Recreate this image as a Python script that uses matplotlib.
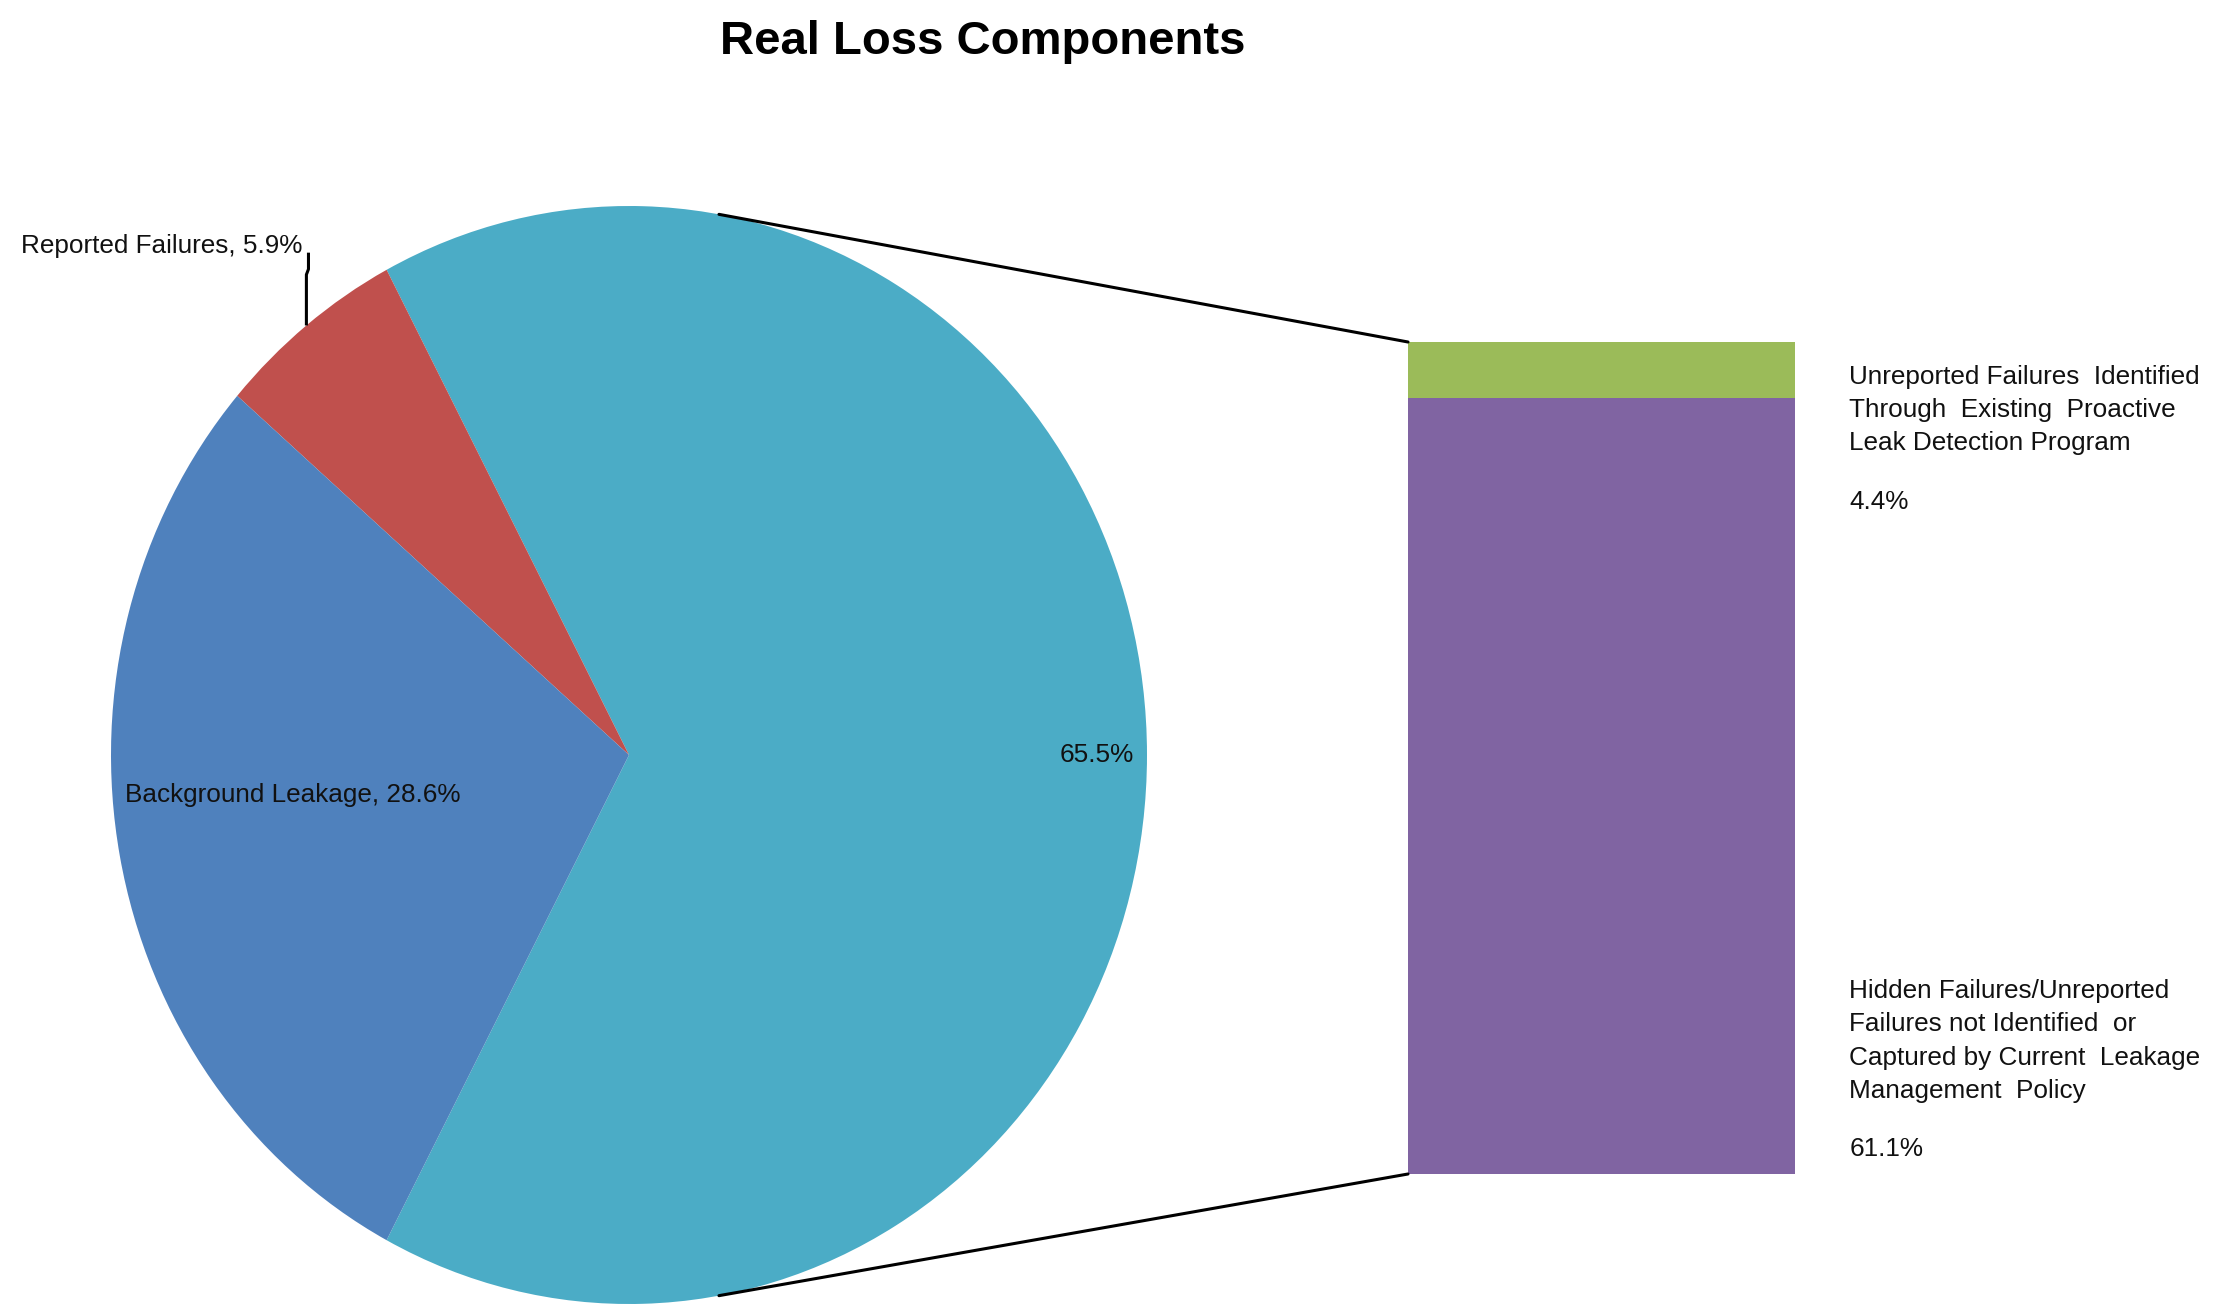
import numpy as np
import matplotlib
matplotlib.use("Agg")
import matplotlib.pyplot as plt
from matplotlib.patches import ConnectionPatch
from matplotlib.transforms import blended_transform_factory

plt.rcParams['font.family'] = ['Liberation Sans', 'DejaVu Sans']

# Pie: the "other" slice is broken out into the stacked bar on the right
pie_labels = ["Other", "Reported Failures", "Background Leakage"]
pie_values = [65.5, 5.9, 28.6]
pie_colors = ["#4BACC6", "#C0504D", "#4F81BD"]

# Breakdown of the "other" slice (bottom to top)
bar_labels = [
    "Hidden Failures/Unreported\nFailures not Identified  or\nCaptured by Current  Leakage\nManagement  Policy",
    "Unreported Failures  Identified\nThrough  Existing  Proactive\nLeak Detection Program",
]
bar_values = [61.1, 4.4]
bar_colors = ["#8064A2", "#9BBB59"]

W, H = 2225, 1305
fig = plt.figure(figsize=(W / 100, H / 100), dpi=100)
fig.patch.set_facecolor("white")

# Pie axes (bounding box of the slightly stretched pie)
cx, cy, rx, ry = 629, 755, 518, 549
ax_pie = fig.add_axes([(cx - rx) / W, (H - cy - ry) / H, 2 * rx / W, 2 * ry / H])
start = -pie_values[0] * 3.6 / 2
wedges, _ = ax_pie.pie(pie_values, colors=pie_colors, startangle=start,
                       counterclock=True, radius=1.0,
                       wedgeprops=dict(linewidth=0))
for w in wedges:
    w.set_clip_on(False)
ax_pie.set_aspect('auto')
ax_pie.set_xlim(-1, 1)
ax_pie.set_ylim(-1, 1)
ax_pie.axis('off')

fs = 18.8
tc = '#111111'
# Labels on the pie
ax_pie.text(0.975, 0.0, f"{pie_values[0]:.1f}%", ha='right', va='center',
            fontsize=fs, color=tc)
ax_pie.text(-0.973, -0.073, f"{pie_labels[2]}, {pie_values[2]:.1f}%",
            ha='left', va='center', fontsize=fs, color=tc)

# Reported Failures label with a leader line from the slice's mid-angle
mid = np.deg2rad(start + 3.6 * (pie_values[0] + pie_values[1] / 2))
ex, ey = np.cos(mid), np.sin(mid)
ax_pie.plot([ex, ex, ex + 0.004, ex + 0.004], [ey, 0.875, 0.885, 0.915],
            color='black', lw=2.2, clip_on=False, solid_capstyle='butt')
ax_pie.text(-0.631, 0.927, f"{pie_labels[1]}, {pie_values[1]:.1f}%",
            ha='right', va='center', fontsize=fs, color=tc)

# Stacked bar
bx0, bx1, by0, by1 = 1408, 1795, 342, 1174
ax_bar = fig.add_axes([bx0 / W, (H - by1) / H, (bx1 - bx0) / W, (by1 - by0) / H])
bottom = 0.0
for v, c in zip(bar_values, bar_colors):
    ax_bar.bar(0, v, bottom=bottom, width=1.0, color=c, linewidth=0)
    bottom += v
total = sum(bar_values)
ax_bar.set_xlim(-0.5, 0.5)
ax_bar.set_ylim(0, total)
ax_bar.axis('off')

trans = blended_transform_factory(ax_bar.transAxes, ax_bar.transData)
tx = 1.140
label_y = [10.47, 60.15]
pct_y = [1.97, 52.9]
for lab, v, ly, py in zip(bar_labels, bar_values, label_y, pct_y):
    ax_bar.text(tx, ly, lab, transform=trans, ha='left', va='center',
                fontsize=fs, linespacing=1.48, color=tc)
    ax_bar.text(tx, py, f"{v:.1f}%", transform=trans, ha='left', va='center',
                fontsize=fs, color=tc)

# Series lines joining the pie to the bar
a = np.deg2rad(80)
for sgn, yb in ((1, total), (-1, 0.0)):
    con = ConnectionPatch(xyA=(np.cos(a), sgn * np.sin(a)), coordsA=ax_pie.transData,
                          xyB=(-0.5, yb), coordsB=ax_bar.transData,
                          color='black', lw=2.2)
    fig.add_artist(con)

fig.text(983 / W, 1 - 42 / H, "Real Loss Components", ha='center', va='center',
         fontsize=34, fontweight='bold', color='black')

fig.savefig("out.png", dpi=100, facecolor='white')
